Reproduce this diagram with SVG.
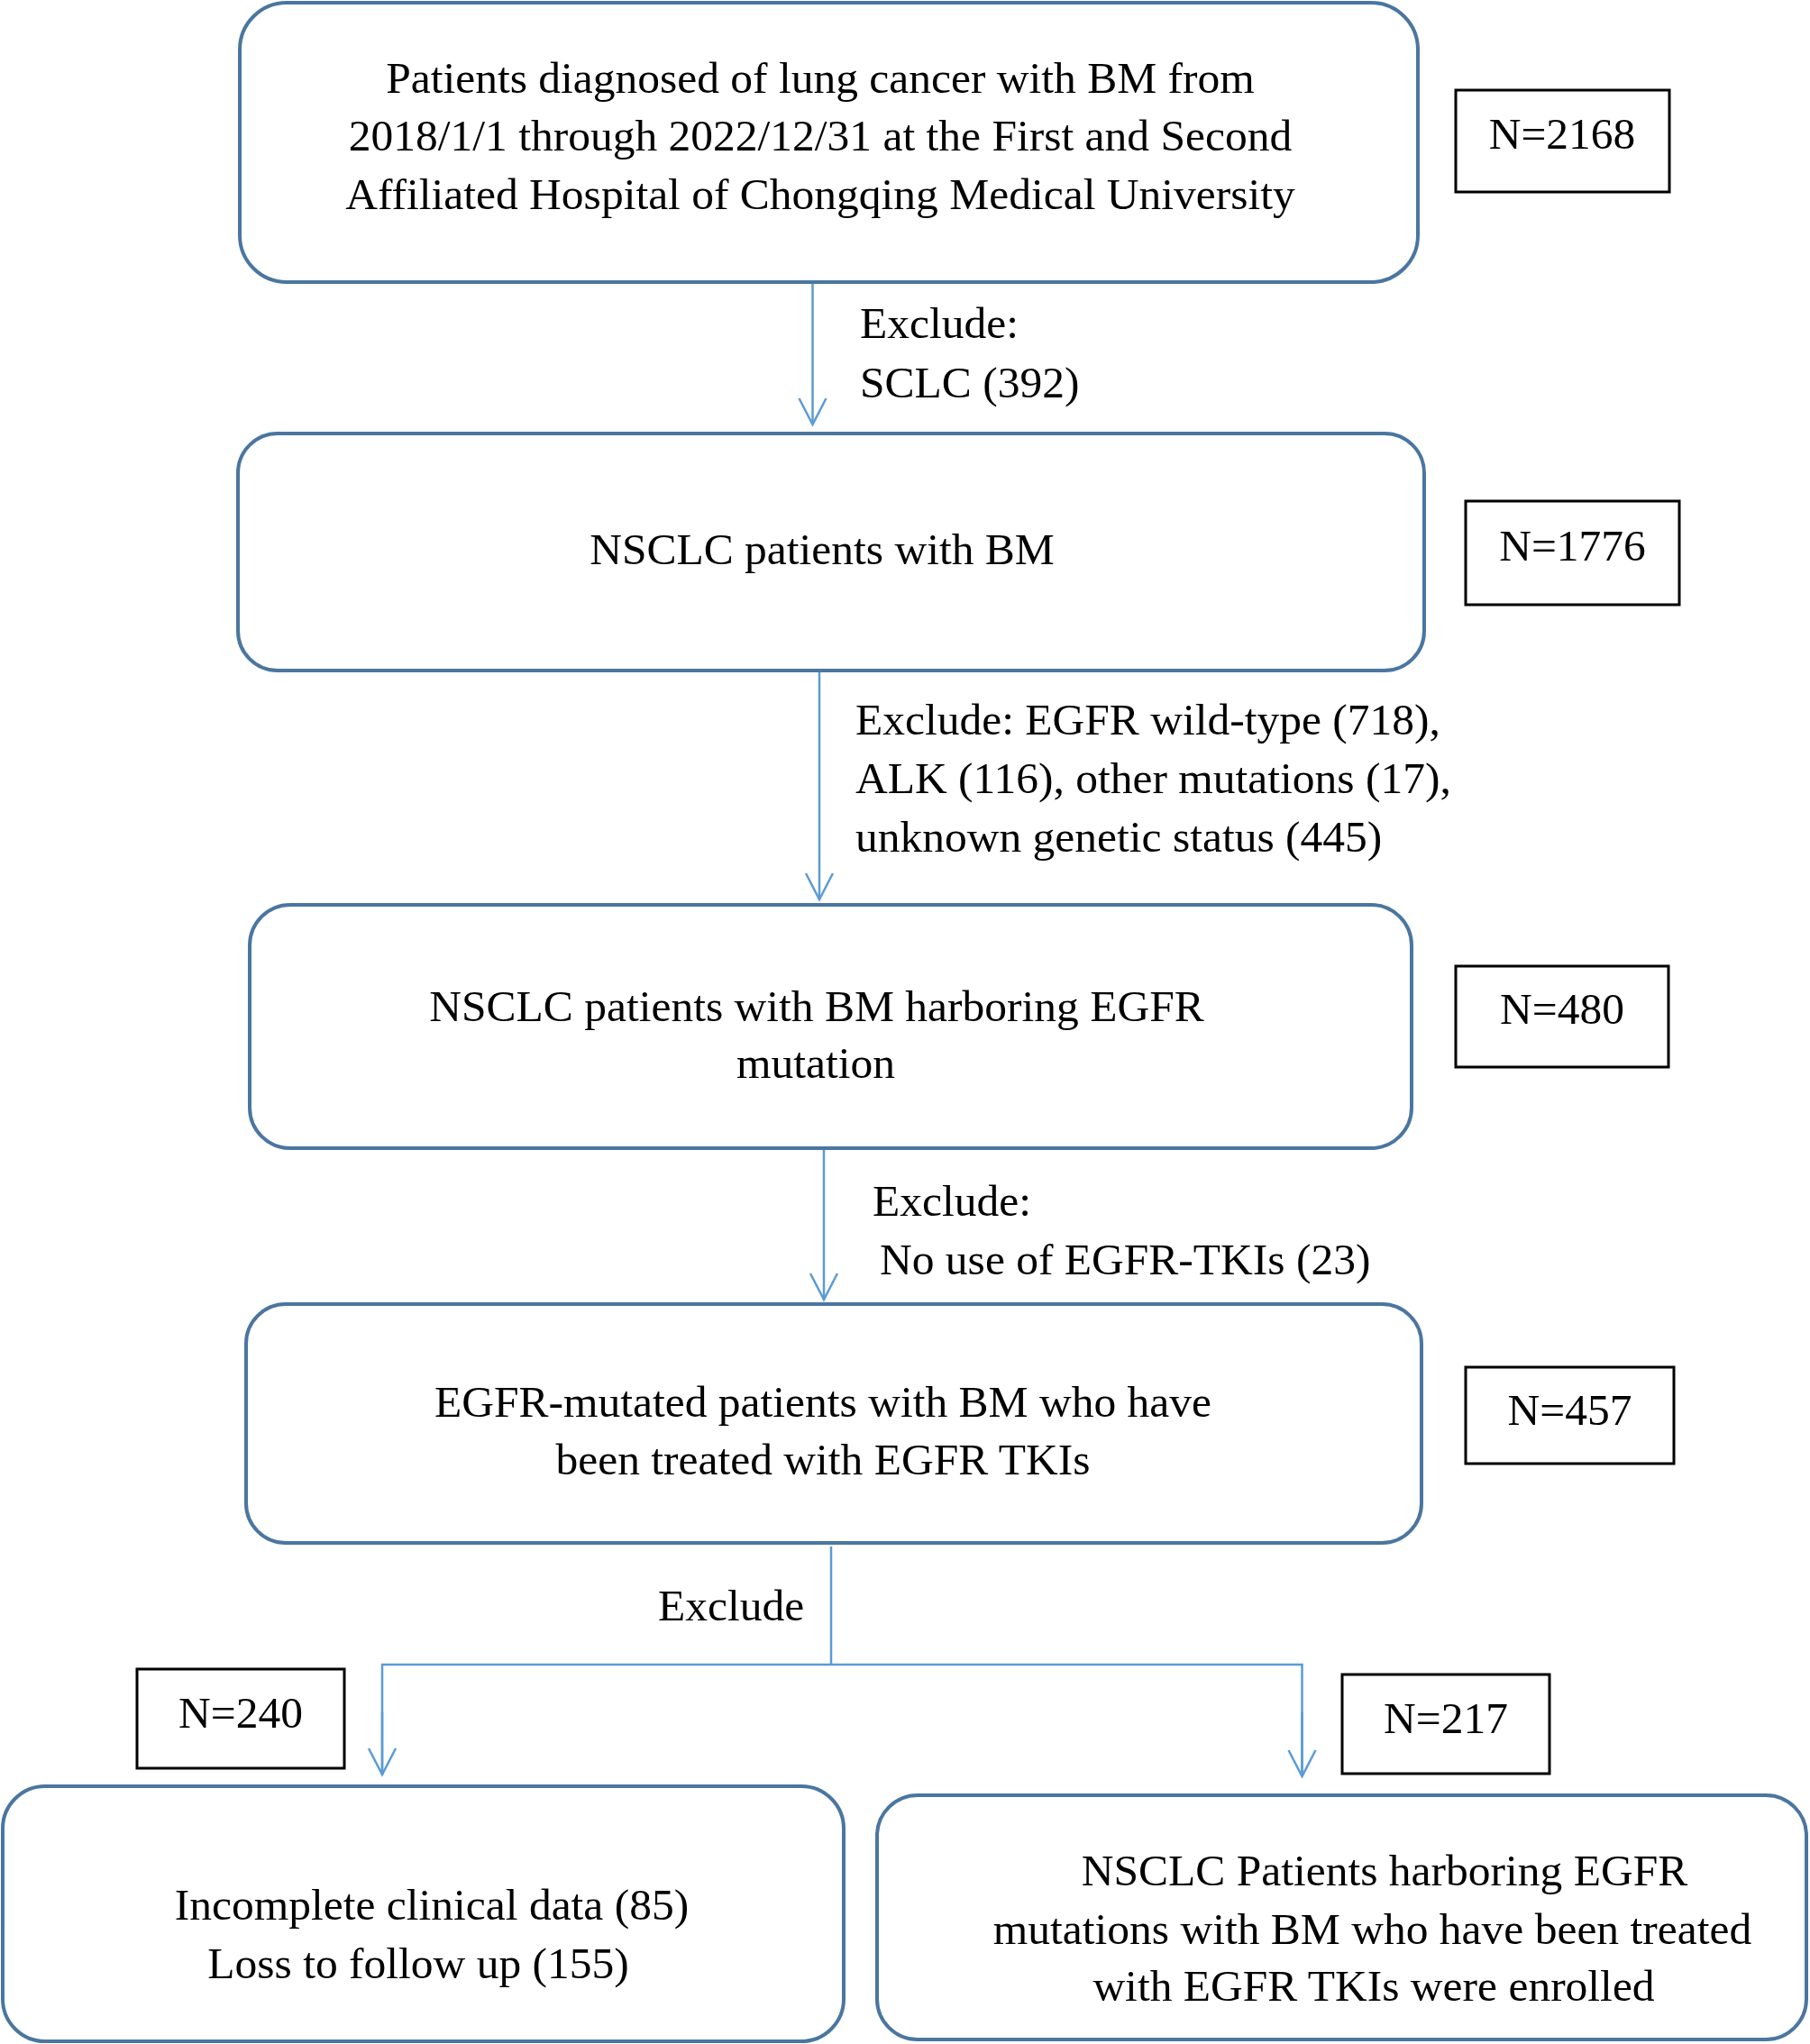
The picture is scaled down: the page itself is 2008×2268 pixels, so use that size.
<svg xmlns="http://www.w3.org/2000/svg" width="2008" height="2268" viewBox="0 0 2008 2268">
<style>
.box{fill:#ffffff;stroke:#4a76a0;stroke-width:4}
.nbox{fill:#ffffff;stroke:#000000;stroke-width:3}
.t{font-family:"Liberation Serif","Times New Roman",serif;font-size:49.5px;fill:#000000}
.c{text-anchor:middle}
.conn{fill:none;stroke:#5b9bd5;stroke-width:2.5}
</style>
<defs>
<marker id="arr" markerUnits="userSpaceOnUse" viewBox="-32 -18 36 36" refX="0" refY="0" markerWidth="36" markerHeight="36" orient="auto" overflow="visible">
<path d="M-29,-15 L0,0 L-29,15" fill="none" stroke="#5b9bd5" stroke-width="2.5"/>
</marker>
</defs>
<rect width="2008" height="2268" fill="#ffffff"/>
<g id="connectors">
<line class="conn" x1="901.5" y1="315" x2="901.5" y2="471" marker-end="url(#arr)"/>
<line class="conn" x1="909" y1="746" x2="909" y2="998" marker-end="url(#arr)"/>
<line class="conn" x1="914" y1="1276" x2="914" y2="1442" marker-end="url(#arr)"/>
<polyline class="conn" points="922,1716 922,1847"/>
<polyline class="conn" points="424,1969 424,1847 1444.5,1847 1444.5,1971"/>
<line class="conn" x1="424" y1="1900" x2="424" y2="1969" marker-end="url(#arr)"/>
<line class="conn" x1="1444.5" y1="1900" x2="1444.5" y2="1971" marker-end="url(#arr)"/>
<text class="t" x="954" y="375">Exclude:</text>
<text class="t" x="954" y="441">SCLC (392)</text>
<text class="t" x="949" y="815">Exclude: EGFR wild-type (718),</text>
<text class="t" x="949" y="880">ALK (116), other mutations (17),</text>
<text class="t" x="949" y="945">unknown genetic status (445)</text>
<text class="t" x="968" y="1349">Exclude:</text>
<text class="t" x="976" y="1414">No use of EGFR-TKIs (23)</text>
<text class="t" x="730" y="1798">Exclude</text>
</g>
<g id="node1">
<rect class="box" x="266" y="3" width="1307" height="310" rx="52" ry="52"/>
<text class="t c" x="910" y="103">Patients diagnosed of lung cancer with BM from</text>
<text class="t c" x="910" y="167">2018/1/1 through 2022/12/31 at the First and Second</text>
<text class="t c" x="910" y="232">Affiliated Hospital of Chongqing Medical University</text>
</g>
<g id="n2168">
<rect class="nbox" x="1615" y="100" width="237" height="113"/>
<text class="t c" x="1733" y="165">N=2168</text>
</g>
<g id="node2">
<rect class="box" x="264" y="481" width="1316" height="263" rx="44" ry="44"/>
<text class="t c" x="912" y="626">NSCLC patients with BM</text>
</g>
<g id="n1776">
<rect class="nbox" x="1626" y="556" width="237" height="115"/>
<text class="t c" x="1744.5" y="622">N=1776</text>
</g>
<g id="node3">
<rect class="box" x="277" y="1004" width="1289" height="270" rx="45" ry="45"/>
<text class="t c" x="906" y="1133">NSCLC patients with BM harboring EGFR</text>
<text class="t c" x="905" y="1196">mutation</text>
</g>
<g id="n480">
<rect class="nbox" x="1615" y="1072" width="236" height="112"/>
<text class="t c" x="1733" y="1136">N=480</text>
</g>
<g id="node4">
<rect class="box" x="273" y="1447" width="1304" height="265" rx="44" ry="44"/>
<text class="t c" x="913" y="1572">EGFR-mutated patients with BM who have</text>
<text class="t c" x="913" y="1636">been treated with EGFR TKIs</text>
</g>
<g id="n457">
<rect class="nbox" x="1626" y="1517" width="231" height="107"/>
<text class="t c" x="1741.5" y="1581">N=457</text>
</g>
<g id="n240">
<rect class="nbox" x="152" y="1852" width="230" height="110"/>
<text class="t c" x="267" y="1917">N=240</text>
</g>
<g id="n217">
<rect class="nbox" x="1489" y="1858" width="230" height="110"/>
<text class="t c" x="1604" y="1923">N=217</text>
</g>
<g id="node5">
<rect class="box" x="3" y="1982" width="933" height="283" rx="47" ry="47"/>
<text class="t c" x="479" y="2130">Incomplete clinical data (85)</text>
<text class="t c" x="464" y="2195">Loss to follow up (155)</text>
</g>
<g id="node6">
<rect class="box" x="973" y="1992" width="1031" height="271" rx="45" ry="45"/>
<text class="t c" x="1536" y="2092">NSCLC Patients harboring EGFR</text>
<text class="t c" x="1522.5" y="2157">mutations with BM who have been treated</text>
<text class="t c" x="1524" y="2220">with EGFR TKIs were enrolled</text>
</g>
</svg>
